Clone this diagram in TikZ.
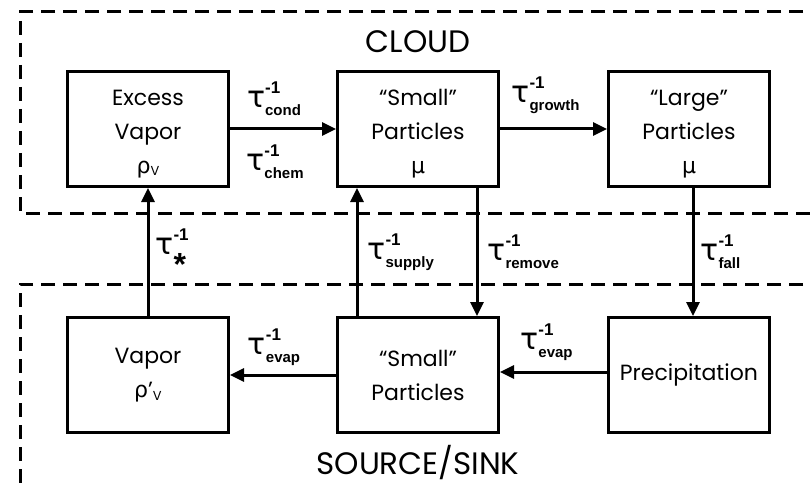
\documentclass[tikz,border=0pt]{standalone}
\usepackage{fontspec}
\setmainfont{Poppins}
\newfontfamily\greekfont{DejaVu Sans}
\newfontfamily\ratefont{Liberation Sans}
\usetikzlibrary{arrows.meta,positioning}

% tau^{-1} with a bold subscript
\newcommand{\rate}[1]{{\greekfont\fontsize{30}{30}\selectfont τ}%
  \rlap{\raisebox{14pt}{\ratefont\bfseries\fontsize{17}{17}\selectfont -1}}%
  \raisebox{-8pt}{\ratefont\bfseries\fontsize{15}{15}\selectfont #1}}
\newcommand{\dens}{{\greekfont ρ}\raisebox{-2pt}{\fontsize{13}{13}\selectfont V}}

\begin{document}
\begin{tikzpicture}[x=1pt,y=-1pt,
    state/.style={draw, line width=3pt, minimum width=161pt, minimum height=115pt,
      align=center, inner sep=0pt, font=\fontsize{22}{34}\selectfont},
    flow/.style={line width=3pt, -{Triangle[length=14pt,width=13pt]}},
    region/.style={line width=3pt, dash pattern=on 14pt off 8pt},
    ratelbl/.style={inner sep=0pt},
    zonelbl/.style={anchor=base, inner sep=0pt, text depth=0pt, font=\fontsize{31}{31}\selectfont}]
  \useasboundingbox (0,0) rectangle (811,484);

  % Cloud and source/sink regions (open to the right)
  \draw[region] (825,12) -- (20,12) -- (20,213) -- (825,213);
  \draw[region] (825,284) -- (20,284) -- (20,500);
  \node[zonelbl] (cloud) at (418,53) {CLOUD};
  \node[zonelbl] (sink) at (418,474) {SOURCE/SINK};

  % Reservoirs in the cloud
  \node[state] (exvap) at (148,129) {\rule{0pt}{26pt}Excess\\Vapor\\\dens};
  \node[state] (smcloud) at (418,129) {\rule{0pt}{26pt}“Small”\\Particles\\{\greekfont μ}};
  \node[state] (lgcloud) at (689,129) {\rule{0pt}{26pt}“Large”\\Particles\\{\greekfont μ}};

  % Reservoirs at the source/sink
  \node[state] (vapor) at (148,375) {Vapor\\{\greekfont ρ}'\raisebox{-3pt}{\fontsize{13}{13}\selectfont V}};
  \node[state] (smsrc) at (418,375) {“Small”\\Particles};
  \node[state] (precip) at (689,375) {Precipitation};

  % Transfers inside the cloud
  \draw[flow] (exvap) -- (smcloud)
    node[ratelbl, midway, above=12pt, xshift=-9pt] (cond) {\rate{cond}}
    node[ratelbl, midway, below=14pt, xshift=-8pt] (chem) {\rate{chem}};
  \draw[flow] (smcloud) -- (lgcloud)
    node[ratelbl, midway, above=14pt, xshift=-8pt] (growth) {\rate{growth}};

  % Exchange between cloud and source/sink
  \draw[flow] (vapor) -- (exvap)
    node[ratelbl, midway, right=6pt] (star) {{\greekfont\fontsize{30}{30}\selectfont τ}%
      \rlap{\raisebox{14pt}{\ratefont\bfseries\fontsize{17}{17}\selectfont -1}}%
      \raisebox{-21pt}{\ratefont\bfseries\fontsize{32}{32}\selectfont *}};
  \draw[flow] ([xshift=-61pt]smsrc.north) -- ([xshift=-61pt]smcloud.south)
    node[ratelbl, midway, right=9pt] (supply) {\rate{supply}};
  \draw[flow] ([xshift=59pt]smcloud.south) -- ([xshift=59pt]smsrc.north)
    node[ratelbl, midway, right=9pt] (remove) {\rate{remove}};
  \draw[flow] ([xshift=4pt]lgcloud.south) -- ([xshift=4pt]precip.north)
    node[ratelbl, midway, right=6pt] (fall) {\rate{fall}};

  % Transfers at the source/sink
  \draw[flow] ([yshift=3pt]precip.west) -- ([yshift=3pt]smsrc.east)
    node[ratelbl, midway, above=10pt, xshift=-7pt] (evapb) {\rate{evap}};
  \draw[flow] (smsrc) -- (vapor)
    node[ratelbl, midway, above=8pt, xshift=-9pt] (evapa) {\rate{evap}};
\end{tikzpicture}
\end{document}
